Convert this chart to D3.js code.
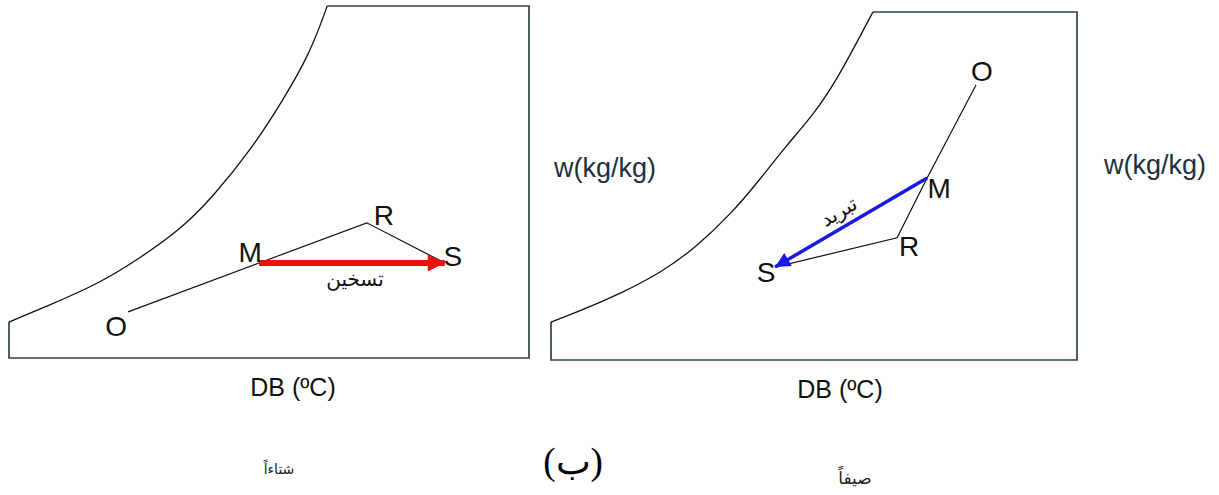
<html>
<script src="https://d3js.org/d3.v7.min.js"></script>
<body style="margin:0;background:#fff">
<div id="chart"></div>
<script>
// chart values, in percent of each panel's DB (x) and w (y) range
var winterCurve = [[0, 10.2], [7.9, 15.1], [17.5, 21.3], [25.2, 28.4], [32.9, 36.4], [39.2, 45.7], [46.9, 59.9], [52.7, 73.3], [57.9, 86.6], [61.2, 100]];
var summerCurve = [[0, 10.9], [5.1, 13.8], [13.5, 19.3], [21.1, 25.3], [27.4, 32.2], [34.4, 42.2], [40.1, 52.6], [44.5, 61.2], [50.2, 71.0], [54.6, 81.3], [58.4, 92.0], [61.2, 100]];

var winterPoints = [
  {name: "O", db: 22.9, w: 13.1},
  {name: "M", db: 48.1, w: 27.0},
  {name: "R", db: 68.8, w: 38.4},
  {name: "S", db: 83.8, w: 27.0}
];
var summerPoints = [
  {name: "O", db: 80.8, w: 79.0},
  {name: "M", db: 71.5, w: 52.3},
  {name: "R", db: 65.8, w: 35.1},
  {name: "S", db: 42.6, w: 26.7}
];

var xLabel = "DB (ºC)";
var yLabel = "w(kg/kg)";
var winterTitle = "شتاءاً";
var summerTitle = "صيفاً";
var heatLabel = "تسخين";
var coolLabel = "تبريد";
var figLabel = "(ب)";

var width = 1219;
var height = 495;

var svg = d3.select("#chart").append("svg")
  .attr("width", width)
  .attr("height", height)
  .style("font-family", "'Liberation Sans', Arial, 'DejaVu Sans', sans-serif");

var defs = svg.append("defs");
function marker(id, color, w, h) {
  defs.append("marker")
    .attr("id", id)
    .attr("viewBox", "0 0 10 10")
    .attr("refX", 10).attr("refY", 5)
    .attr("markerUnits", "userSpaceOnUse")
    .attr("markerWidth", w).attr("markerHeight", h)
    .attr("orient", "auto")
    .append("path")
    .attr("d", "M0,0L10,5L0,10Z")
    .attr("fill", color);
}
marker("headRed", "#f01010", 20, 17);
marker("headBlue", "#1a1ae0", 20, 15);

function panel(box, curve, points, arrow) {
  var x = d3.scaleLinear().domain([0, 100]).range([box.left, box.right]);
  var y = d3.scaleLinear().domain([0, 100]).range([box.bottom, box.top]);
  var g = svg.append("g");

  // outline: left stub, bottom, right, top up to the saturation curve
  var outline = [curve[0], [0, 0], [100, 0], [100, 100], curve[curve.length - 1]];
  g.append("path")
    .attr("d", d3.line().x(d => x(d[0])).y(d => y(d[1]))(outline))
    .attr("fill", "none")
    .attr("stroke", "#2f4444")
    .attr("stroke-width", 1.7);

  g.append("path")
    .attr("d", d3.line().curve(d3.curveBasis).x(d => x(d[0])).y(d => y(d[1]))(curve))
    .attr("fill", "none")
    .attr("stroke", "#111")
    .attr("stroke-width", 1.3);

  var p = {};
  points.forEach(d => p[d.name] = d);

  // process lines O-M-R-S
  g.append("path")
    .attr("d", d3.line().x(d => x(d.db)).y(d => y(d.w))([p.O, p.M, p.R, p.S]))
    .attr("fill", "none")
    .attr("stroke", "#111")
    .attr("stroke-width", 1.2);

  g.append("line")
    .attr("x1", x(p.M.db)).attr("y1", y(p.M.w))
    .attr("x2", x(p.S.db)).attr("y2", y(p.S.w))
    .attr("stroke", arrow.color)
    .attr("stroke-width", arrow.stroke)
    .attr("marker-end", "url(#" + arrow.marker + ")");

  points.forEach(function(d) {
    var off = arrow.offsets[d.name];
    g.append("text")
      .attr("x", x(d.db) + off[0])
      .attr("y", y(d.w) + off[1])
      .attr("text-anchor", "middle")
      .attr("font-size", 28)
      .attr("fill", "#111")
      .text(d.name);
  });

  // arrow label
  var mx = (x(p.M.db) + x(p.S.db)) / 2, my = (y(p.M.w) + y(p.S.w)) / 2;
  var ang = arrow.rotate ? Math.atan2(y(p.M.w) - y(p.S.w), x(p.M.db) - x(p.S.db)) * 180 / Math.PI : 0;
  g.append("text")
    .attr("transform", "translate(" + (mx + arrow.labelShift[0]) + "," + (my + arrow.labelShift[1]) + ") rotate(" + ang + ")")
    .attr("text-anchor", "middle")
    .attr("font-family", "'DejaVu Sans', sans-serif")
    .attr("font-size", 20)
    .attr("fill", "#111")
    .text(arrow.label);

  g.append("text")
    .attr("x", (box.left + box.right) / 2 + box.xLabelShift)
    .attr("y", box.bottom + 38)
    .attr("text-anchor", "middle")
    .attr("font-size", 25)
    .attr("fill", "#111")
    .text(xLabel);
}

panel({left: 9, right: 529, top: 6, bottom: 358, xLabelShift: 24}, winterCurve, winterPoints,
  {color: "#f01010", stroke: 6, marker: "headRed", label: heatLabel, labelShift: [3, 23], rotate: false,
   offsets: {O: [-12, 24], M: [-9, -1], R: [17, 2], S: [8, 3]}});
panel({left: 551, right: 1077, top: 12, bottom: 360, xLabelShift: 26}, summerCurve, summerPoints,
  {color: "#1a1ae0", stroke: 3.5, marker: "headBlue", label: coolLabel, labelShift: [-9, -5], rotate: true,
   offsets: {O: [6, -4], M: [12, 20], R: [12, 18], S: [-9, 15]}});

// y axis labels
[[605, 177], [1155, 174]].forEach(function(pos) {
  svg.append("text")
    .attr("x", pos[0]).attr("y", pos[1])
    .attr("text-anchor", "middle")
    .attr("font-size", 27)
    .attr("fill", "#1f2f3f")
    .text(yLabel);
});

svg.append("text").attr("x", 279).attr("y", 474).attr("text-anchor", "middle")
  .attr("font-family", "'DejaVu Sans', sans-serif").attr("font-size", 14).attr("fill", "#222").text(winterTitle);
svg.append("text").attr("x", 855).attr("y", 484).attr("text-anchor", "middle")
  .attr("font-family", "'DejaVu Sans', sans-serif").attr("font-size", 17).attr("fill", "#222").text(summerTitle);
svg.append("text").attr("x", 573).attr("y", 474).attr("text-anchor", "middle")
  .attr("font-family", "'Liberation Serif', 'DejaVu Serif', serif").attr("font-size", 37).attr("fill", "#000").text(figLabel);
</script>
</body>
</html>
